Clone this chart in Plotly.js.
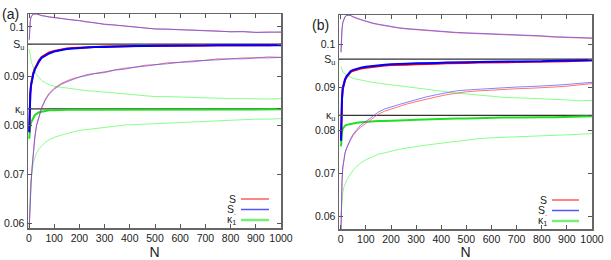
<!DOCTYPE html>
<html><head><meta charset="utf-8">
<script src="https://cdn.plot.ly/plotly-3.0.1.min.js"></script>
<style>html,body{margin:0;padding:0;background:#fff}#plot{width:611px;height:260px}</style>
</head><body><div id="plot"></div>
<script>
// N grid shared by all series
const N = [1,2,3,5,8,12,17,23,30,40,50,65,80,100,125,150,175,200,230,260,300,340,380,420,460,500,550,600,650,700,750,800,850,900,950,1000];

// Panel (a)
const aUpRed  = [0.0975,0.0990,0.1001,0.1013,0.1020,0.1024,0.1026,0.1027,0.1026,0.1026,0.1024,0.1022,0.1021,0.1019,0.1018,0.1016,0.1015,0.1013,0.1011,0.1008,0.1006,0.1004,0.1001,0.0999,0.0998,0.0996,0.0995,0.0995,0.0993,0.0993,0.0991,0.0991,0.0990,0.0989,0.0990,0.0989];
const aUpBlue = [0.0973,0.0989,0.1000,0.1012,0.1021,0.1025,0.1027,0.1026,0.1027,0.1025,0.1023,0.1022,0.1020,0.1019,0.1017,0.1016,0.1014,0.1013,0.1010,0.1009,0.1005,0.1004,0.1002,0.0999,0.0997,0.0996,0.0996,0.0994,0.0994,0.0992,0.0992,0.0990,0.0991,0.0989,0.0989,0.0990];
const aSRed   = [0.0787,0.0817,0.0842,0.0865,0.0883,0.0896,0.0906,0.0915,0.0923,0.0932,0.0939,0.0944,0.0948,0.0951,0.0954,0.0956,0.0957,0.0958,0.0959,0.0959,0.0960,0.0960,0.0961,0.0961,0.0961,0.0962,0.0962,0.0962,0.0962,0.0963,0.0963,0.0963,0.0963,0.0963,0.0963,0.0964];
const aSBlue  = [0.0785,0.0815,0.0840,0.0862,0.0880,0.0893,0.0904,0.0913,0.0921,0.0930,0.0937,0.0942,0.0946,0.0950,0.0953,0.0955,0.0956,0.0957,0.0958,0.0959,0.0959,0.0960,0.0960,0.0961,0.0961,0.0961,0.0962,0.0962,0.0962,0.0962,0.0963,0.0963,0.0963,0.0963,0.0963,0.0963];
const aLoRed  = [0.0592,0.0610,0.0625,0.0650,0.0680,0.0712,0.0745,0.0775,0.0800,0.0821,0.0836,0.0853,0.0865,0.0875,0.0884,0.0890,0.0895,0.0898,0.0903,0.0905,0.0909,0.0912,0.0916,0.0918,0.0922,0.0923,0.0927,0.0928,0.0931,0.0932,0.0935,0.0935,0.0937,0.0937,0.0939,0.0938];
const aLoBlue = [0.0590,0.0608,0.0624,0.0649,0.0679,0.0711,0.0744,0.0774,0.0799,0.0819,0.0834,0.0851,0.0863,0.0873,0.0882,0.0888,0.0893,0.0898,0.0901,0.0905,0.0907,0.0912,0.0914,0.0918,0.0920,0.0923,0.0925,0.0928,0.0929,0.0932,0.0933,0.0935,0.0935,0.0937,0.0937,0.0938];
const aGrUp   = [0.0955,0.0950,0.0945,0.0938,0.0932,0.0925,0.0917,0.0910,0.0903,0.0896,0.0891,0.0886,0.0882,0.0879,0.0877,0.0875,0.0873,0.0872,0.0870,0.0869,0.0867,0.0865,0.0864,0.0862,0.0860,0.0858,0.0858,0.0857,0.0856,0.0856,0.0855,0.0854,0.0854,0.0853,0.0853,0.0854];
const aKappa1 = [0.0772,0.0780,0.0790,0.0798,0.0805,0.0810,0.0815,0.0820,0.0823,0.0826,0.0827,0.0829,0.0830,0.0830,0.0831,0.0831,0.0831,0.0831,0.0831,0.0831,0.0832,0.0832,0.0832,0.0832,0.0832,0.0832,0.0832,0.0832,0.0832,0.0832,0.0832,0.0832,0.0832,0.0832,0.0832,0.0832];
const aGrLo   = [0.0598,0.0625,0.0645,0.0668,0.0690,0.0708,0.0722,0.0733,0.0743,0.0752,0.0758,0.0765,0.0770,0.0775,0.0779,0.0783,0.0786,0.0789,0.0791,0.0793,0.0796,0.0798,0.0800,0.0801,0.0802,0.0803,0.0804,0.0806,0.0807,0.0808,0.0809,0.0810,0.0811,0.0812,0.0812,0.0813];
const aSu = 0.0965, aKu = 0.0833;

// Panel (b)
const bUpRed  = [0.0982,0.1000,0.1015,0.1035,0.1050,0.1058,0.1063,0.1066,0.1067,0.1066,0.1062,0.1059,0.1056,0.1052,0.1048,0.1045,0.1042,0.1039,0.1037,0.1035,0.1033,0.1031,0.1030,0.1028,0.1026,0.1025,0.1024,0.1022,0.1021,0.1020,0.1019,0.1018,0.1016,0.1015,0.1013,0.1013];
const bUpBlue = [0.0980,0.0999,0.1014,0.1034,0.1049,0.1058,0.1064,0.1066,0.1067,0.1066,0.1063,0.1060,0.1057,0.1053,0.1049,0.1046,0.1043,0.1040,0.1038,0.1036,0.1034,0.1032,0.1031,0.1029,0.1027,0.1026,0.1025,0.1023,0.1022,0.1021,0.1020,0.1019,0.1017,0.1016,0.1014,0.1014];
const bSRed   = [0.0776,0.0818,0.0846,0.0872,0.0895,0.0907,0.0916,0.0923,0.0929,0.0935,0.0938,0.0941,0.0943,0.0945,0.0947,0.0949,0.0950,0.0951,0.0951,0.0952,0.0953,0.0953,0.0954,0.0955,0.0955,0.0956,0.0957,0.0957,0.0958,0.0958,0.0959,0.0959,0.0960,0.0960,0.0961,0.0962];
const bSBlue  = [0.0775,0.0820,0.0848,0.0875,0.0898,0.0910,0.0918,0.0925,0.0931,0.0937,0.0940,0.0943,0.0945,0.0947,0.0949,0.0951,0.0952,0.0953,0.0953,0.0954,0.0955,0.0955,0.0956,0.0957,0.0957,0.0958,0.0958,0.0959,0.0959,0.0960,0.0960,0.0960,0.0961,0.0961,0.0962,0.0962];
const bLoRed  = [0.0570,0.0610,0.0640,0.0680,0.0712,0.0733,0.0746,0.0757,0.0767,0.0778,0.0788,0.0799,0.0807,0.0815,0.0827,0.0837,0.0844,0.0849,0.0855,0.0860,0.0866,0.0872,0.0877,0.0882,0.0886,0.0889,0.0891,0.0893,0.0895,0.0896,0.0897,0.0898,0.0900,0.0902,0.0905,0.0908];
const bLoBlue = [0.0568,0.0610,0.0641,0.0681,0.0713,0.0734,0.0747,0.0758,0.0769,0.0781,0.0791,0.0802,0.0812,0.0820,0.0832,0.0842,0.0849,0.0854,0.0859,0.0864,0.0871,0.0877,0.0882,0.0887,0.0891,0.0893,0.0895,0.0897,0.0899,0.0900,0.0901,0.0902,0.0904,0.0906,0.0909,0.0911];
const bGrUp   = [0.0948,0.0945,0.0942,0.0938,0.0935,0.0932,0.0930,0.0928,0.0926,0.0923,0.0920,0.0918,0.0916,0.0914,0.0911,0.0909,0.0907,0.0905,0.0903,0.0901,0.0898,0.0895,0.0892,0.0889,0.0886,0.0884,0.0881,0.0878,0.0876,0.0875,0.0874,0.0873,0.0871,0.0870,0.0868,0.0869];
const bKappa1 = [0.0762,0.0778,0.0788,0.0797,0.0803,0.0807,0.0810,0.0812,0.0813,0.0815,0.0816,0.0817,0.0818,0.0819,0.0820,0.0821,0.0821,0.0822,0.0823,0.0823,0.0824,0.0825,0.0826,0.0826,0.0827,0.0827,0.0828,0.0828,0.0829,0.0829,0.0830,0.0830,0.0830,0.0831,0.0831,0.0832];
const bGrLo   = [0.0599,0.0612,0.0625,0.0640,0.0655,0.0666,0.0675,0.0683,0.0690,0.0700,0.0707,0.0716,0.0724,0.0731,0.0737,0.0744,0.0747,0.0751,0.0755,0.0758,0.0762,0.0765,0.0768,0.0771,0.0775,0.0777,0.0780,0.0782,0.0783,0.0784,0.0785,0.0786,0.0787,0.0788,0.0790,0.0792];
const bSu = 0.0965, bKu = 0.0834;

const xTicks = [0,100,200,300,400,500,600,700,800,900,1000];
const yTicks = [0.06,0.07,0.08,0.09,0.1];
const yTickText = ['0.06','0.07','0.08','0.09','0.1'];
const legendNames = ['S','S<sub>.</sub>','κ<sub>1</sub>'];

const C = {thinRed:'rgba(255,70,70,0.75)', thinBlue:'rgba(80,80,255,0.7)', red:'#ff0000', blue:'#0000ff',
           lgreen:'#88ff88', green:'#22dd22', ref:'#333333'};

function panel(xa, ya, d) {
  const ax = {xaxis: xa, yaxis: ya, mode:'lines', showlegend:false, hoverinfo:'skip'};
  const xr = [-10, 1005];
  return [
    Object.assign({x:xr, y:[d.Su,d.Su], line:{color:C.ref, width:1.3}}, ax),
    Object.assign({x:xr, y:[d.Ku,d.Ku], line:{color:C.ref, width:1.3}}, ax),
    Object.assign({x:N, y:d.grUp, line:{color:C.lgreen, width:1}}, ax),
    Object.assign({x:N, y:d.grLo, line:{color:C.lgreen, width:1}}, ax),
    Object.assign({x:N, y:d.k1, line:{color:C.green, width:2}}, ax),
    Object.assign({x:N, y:d.upR, line:{color:C.thinRed, width:1}}, ax),
    Object.assign({x:N, y:d.upB, line:{color:C.thinBlue, width:1}}, ax),
    Object.assign({x:N, y:d.loR, line:{color:C.thinRed, width:1}}, ax),
    Object.assign({x:N, y:d.loB, line:{color:C.thinBlue, width:1}}, ax),
    Object.assign({x:N, y:d.sR, line:{color:C.red, width:2}}, ax),
    Object.assign({x:N, y:d.sB, line:{color:C.blue, width:2}}, ax)
  ];
}

const data = [].concat(
  panel('x','y',{Su:aSu,Ku:aKu,grUp:aGrUp,grLo:aGrLo,k1:aKappa1,upR:aUpRed,upB:aUpBlue,loR:aLoRed,loB:aLoBlue,sR:aSRed,sB:aSBlue}),
  panel('x2','y2',{Su:bSu,Ku:bKu,grUp:bGrUp,grLo:bGrLo,k1:bKappa1,upR:bUpRed,upB:bUpBlue,loR:bLoRed,loB:bLoBlue,sR:bSRed,sB:bSBlue})
);

const font = {family:'"Liberation Sans", Arial, sans-serif', size:10.5, color:'#222'};
function xAxis(domain, range, anchor) {
  return {domain:domain, range:range, anchor:anchor, tickvals:xTicks, ticktext:xTicks.map(String),
    ticks:'inside', ticklen:4, tickcolor:'#555', showline:true, linecolor:'#666', linewidth:1.5, mirror:'ticks',
    showgrid:false, zeroline:false, tickfont:font,
    title:{text:'N', font:{family:font.family, size:14, color:'#222'}, standoff:2}};
}
function yAxis(domain, range, anchor, Su, Ku) {
  return {domain:domain, range:range, anchor:anchor,
    tickvals: yTicks.concat([Su, Ku]), ticktext: yTickText.concat(['S<sub>u</sub>','κ<sub>u</sub>']),
    ticks:'inside', ticklen:4, tickcolor:'#555', showline:true, linecolor:'#666', linewidth:1.5, mirror:'ticks',
    showgrid:false, zeroline:false, tickfont:font};
}

const W = 611, H = 260;
function legend(textRight, x0, x1, ys) {
  const cols = ['#ff3333','#5555ff','#77ee77'];
  const widths = [1.2,1.5,2.5];
  const ann = [], shp = [];
  ys.forEach((yy,i) => {
    ann.push({xref:'paper', yref:'paper', x:textRight/W, y:1-yy/H, xanchor:'right', yanchor:'middle',
      text:legendNames[i], showarrow:false, font:{family:font.family, size:10.5, color:'#222'}});
    shp.push({type:'line', xref:'paper', yref:'paper', x0:x0/W, x1:x1/W, y0:1-yy/H, y1:1-yy/H,
      line:{color:cols[i], width:widths[i]}});
  });
  return {ann, shp};
}
const lgA = legend(238, 241, 269, [199,209.5,220]);
const lgB = legend(549, 552, 579, [200,210.5,221]);

const layout = {
  width:W, height:H, margin:{l:0,r:0,t:0,b:0}, paper_bgcolor:'#fff', plot_bgcolor:'#fff',
  font: font, showlegend:false,
  xaxis: xAxis([28/W, 281/W], [-4, 1000], 'y'),
  yaxis: yAxis([1-228/H, 1-14/H], [0.0590, 0.10265], 'x', aSu, aKu),
  xaxis2: xAxis([339/W, 592/W], [-7, 1000], 'y2'),
  yaxis2: yAxis([1-229/H, 1-15/H], [0.0570, 0.10674], 'x2', bSu, bKu),
  annotations: [
    {xref:'paper', yref:'paper', x:10/W, y:1-14/H, text:'(a)', showarrow:false, xanchor:'center', yanchor:'middle',
     font:{family:font.family, size:14, color:'#222'}},
    {xref:'paper', yref:'paper', x:320/W, y:1-25/H, text:'(b)', showarrow:false, xanchor:'center', yanchor:'middle',
     font:{family:font.family, size:14, color:'#222'}}
  ].concat(lgA.ann, lgB.ann),
  shapes: [].concat(lgA.shp, lgB.shp)
};

Plotly.newPlot('plot', data, layout, {staticPlot:true, displayModeBar:false});
</script>
</body></html>
